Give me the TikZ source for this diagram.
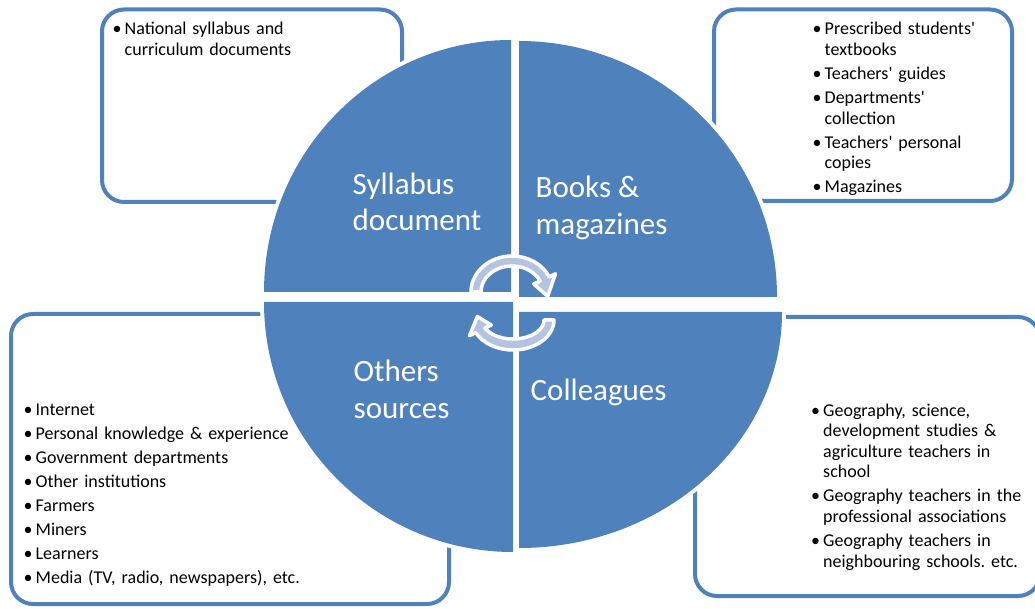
\documentclass[tikz,border=0pt]{standalone}
\usepackage{fontspec}
\newfontfamily\carl{Carlito}
\definecolor{qblue}{HTML}{4F81BD}
\definecolor{arrfill}{HTML}{B4C3DF}
\newcommand{\bitem}[1]{\noindent\makebox[12pt][l]{\textbullet}#1\par}
\newcommand{\nl}{\hfill\break\hspace*{12pt}}
\newcommand{\boxfont}{\carl\fontsize{18}{20.6}\selectfont\frenchspacing\setlength{\parskip}{3.4pt}}
\newcommand{\quadfont}{\carl\fontsize{31}{36.6}\selectfont}
\begin{document}
\begin{tikzpicture}[x=1pt,y=1pt,
  srcbox/.style={draw=qblue, line width=4pt, rounded corners=22pt, fill=white},
  quad/.style={fill=qblue, preaction={draw=white, line width=8pt}},
  cyclearrow/.style={fill=arrfill, draw=white, line width=3.5pt, line join=round},
  qlabel/.style={font=\quadfont, text=white, align=left, anchor=base west, inner sep=0pt},
  listtext/.style={font=\boxfont, text width=#1, align=left, anchor=base west, inner sep=0pt}]
\useasboundingbox (0,0) rectangle (1035,608);
\fill[white] (0,0) rectangle (1035,608);
% source boxes
\draw[srcbox] (102,406) rectangle (402,598.5);
\draw[srcbox] (714,407) rectangle (1012,598.5);
\draw[srcbox] (11,4) rectangle (449,294);
\draw[srcbox] (695,12) rectangle (1040,291);
% quadrants
\path[quad] (511,316) -- (511,568) arc[start angle=90,end angle=180,x radius=247,y radius=252] -- cycle;
\path[quad] (519,311) -- (777,311) arc[start angle=0,end angle=90,x radius=258,y radius=256] -- cycle;
\path[quad] (513,306) -- (264,306) arc[start angle=180,end angle=270,x radius=249,y radius=250] -- cycle;
\path[quad] (519,296) -- (519,60) arc[start angle=270,end angle=360,x radius=263,y radius=236] -- cycle;
% cycle arrows
\coordinate (c1) at (512,316);
\coordinate (c2) at (513,288);
\path[cyclearrow] ([shift={(180:41 and 36)}]c1) arc[start angle=180,end angle=25,x radius=41,y radius=36]
  -- ([shift={(25:48 and 43)}]c1) -- ([shift={(-8:36 and 31)}]c1) -- ([shift={(25:24 and 19)}]c1)
  -- ([shift={(25:31 and 26)}]c1) arc[start angle=25,end angle=180,x radius=31,y radius=26] -- cycle;
\path[cyclearrow] ([shift={(0:41 and 30)}]c2) arc[start angle=0,end angle=-155,x radius=41,y radius=30]
  -- ([shift={(-155:48 and 37)}]c2) -- ([shift={(172:36 and 25)}]c2) -- ([shift={(-155:24 and 12)}]c2)
  -- ([shift={(-155:31 and 19)}]c2) arc[start angle=-155,end angle=0,x radius=31,y radius=19] -- cycle;
% quadrant labels (base anchor = last line)
\node[qlabel] (syl) at (352.5,377.1) {Syllabus\\document};
\node[qlabel] (bks) at (535.5,373.7) {Books \&\\magazines};
\node[qlabel] (oth) at (353.5,189.7) {Others\\sources};
\node[qlabel] (col) at (530.5,207.3) {Colleagues};
% lists (base anchor = first line)
\node[listtext=280pt] (tlt) at (112.5,573) {\bitem{National syllabus and\nl curriculum documents}};
\node[listtext=210pt] (trt) at (812.5,573) {\bitem{Prescribed students'\nl textbooks}\bitem{Teachers' guides}\bitem{Departments'\nl collection}\bitem{Teachers' personal\nl copies}\bitem{Magazines}};
\node[listtext=400pt] (blt) at (23.5,193) {\bitem{Internet}\bitem{Personal knowledge \& experience}\bitem{Government departments}\bitem{Other institutions}\bitem{Farmers}\bitem{Miners}\bitem{Learners}\bitem{Media (TV, radio, newspapers), etc.}};
\node[listtext=230pt] (brt) at (811,192) {\bitem{Geography, science,\nl development studies \&\nl agriculture teachers in\nl school}\bitem{Geography teachers in the\nl professional associations}\bitem{Geography teachers in\nl neighbouring schools. etc.}};
\end{tikzpicture}
\end{document}
